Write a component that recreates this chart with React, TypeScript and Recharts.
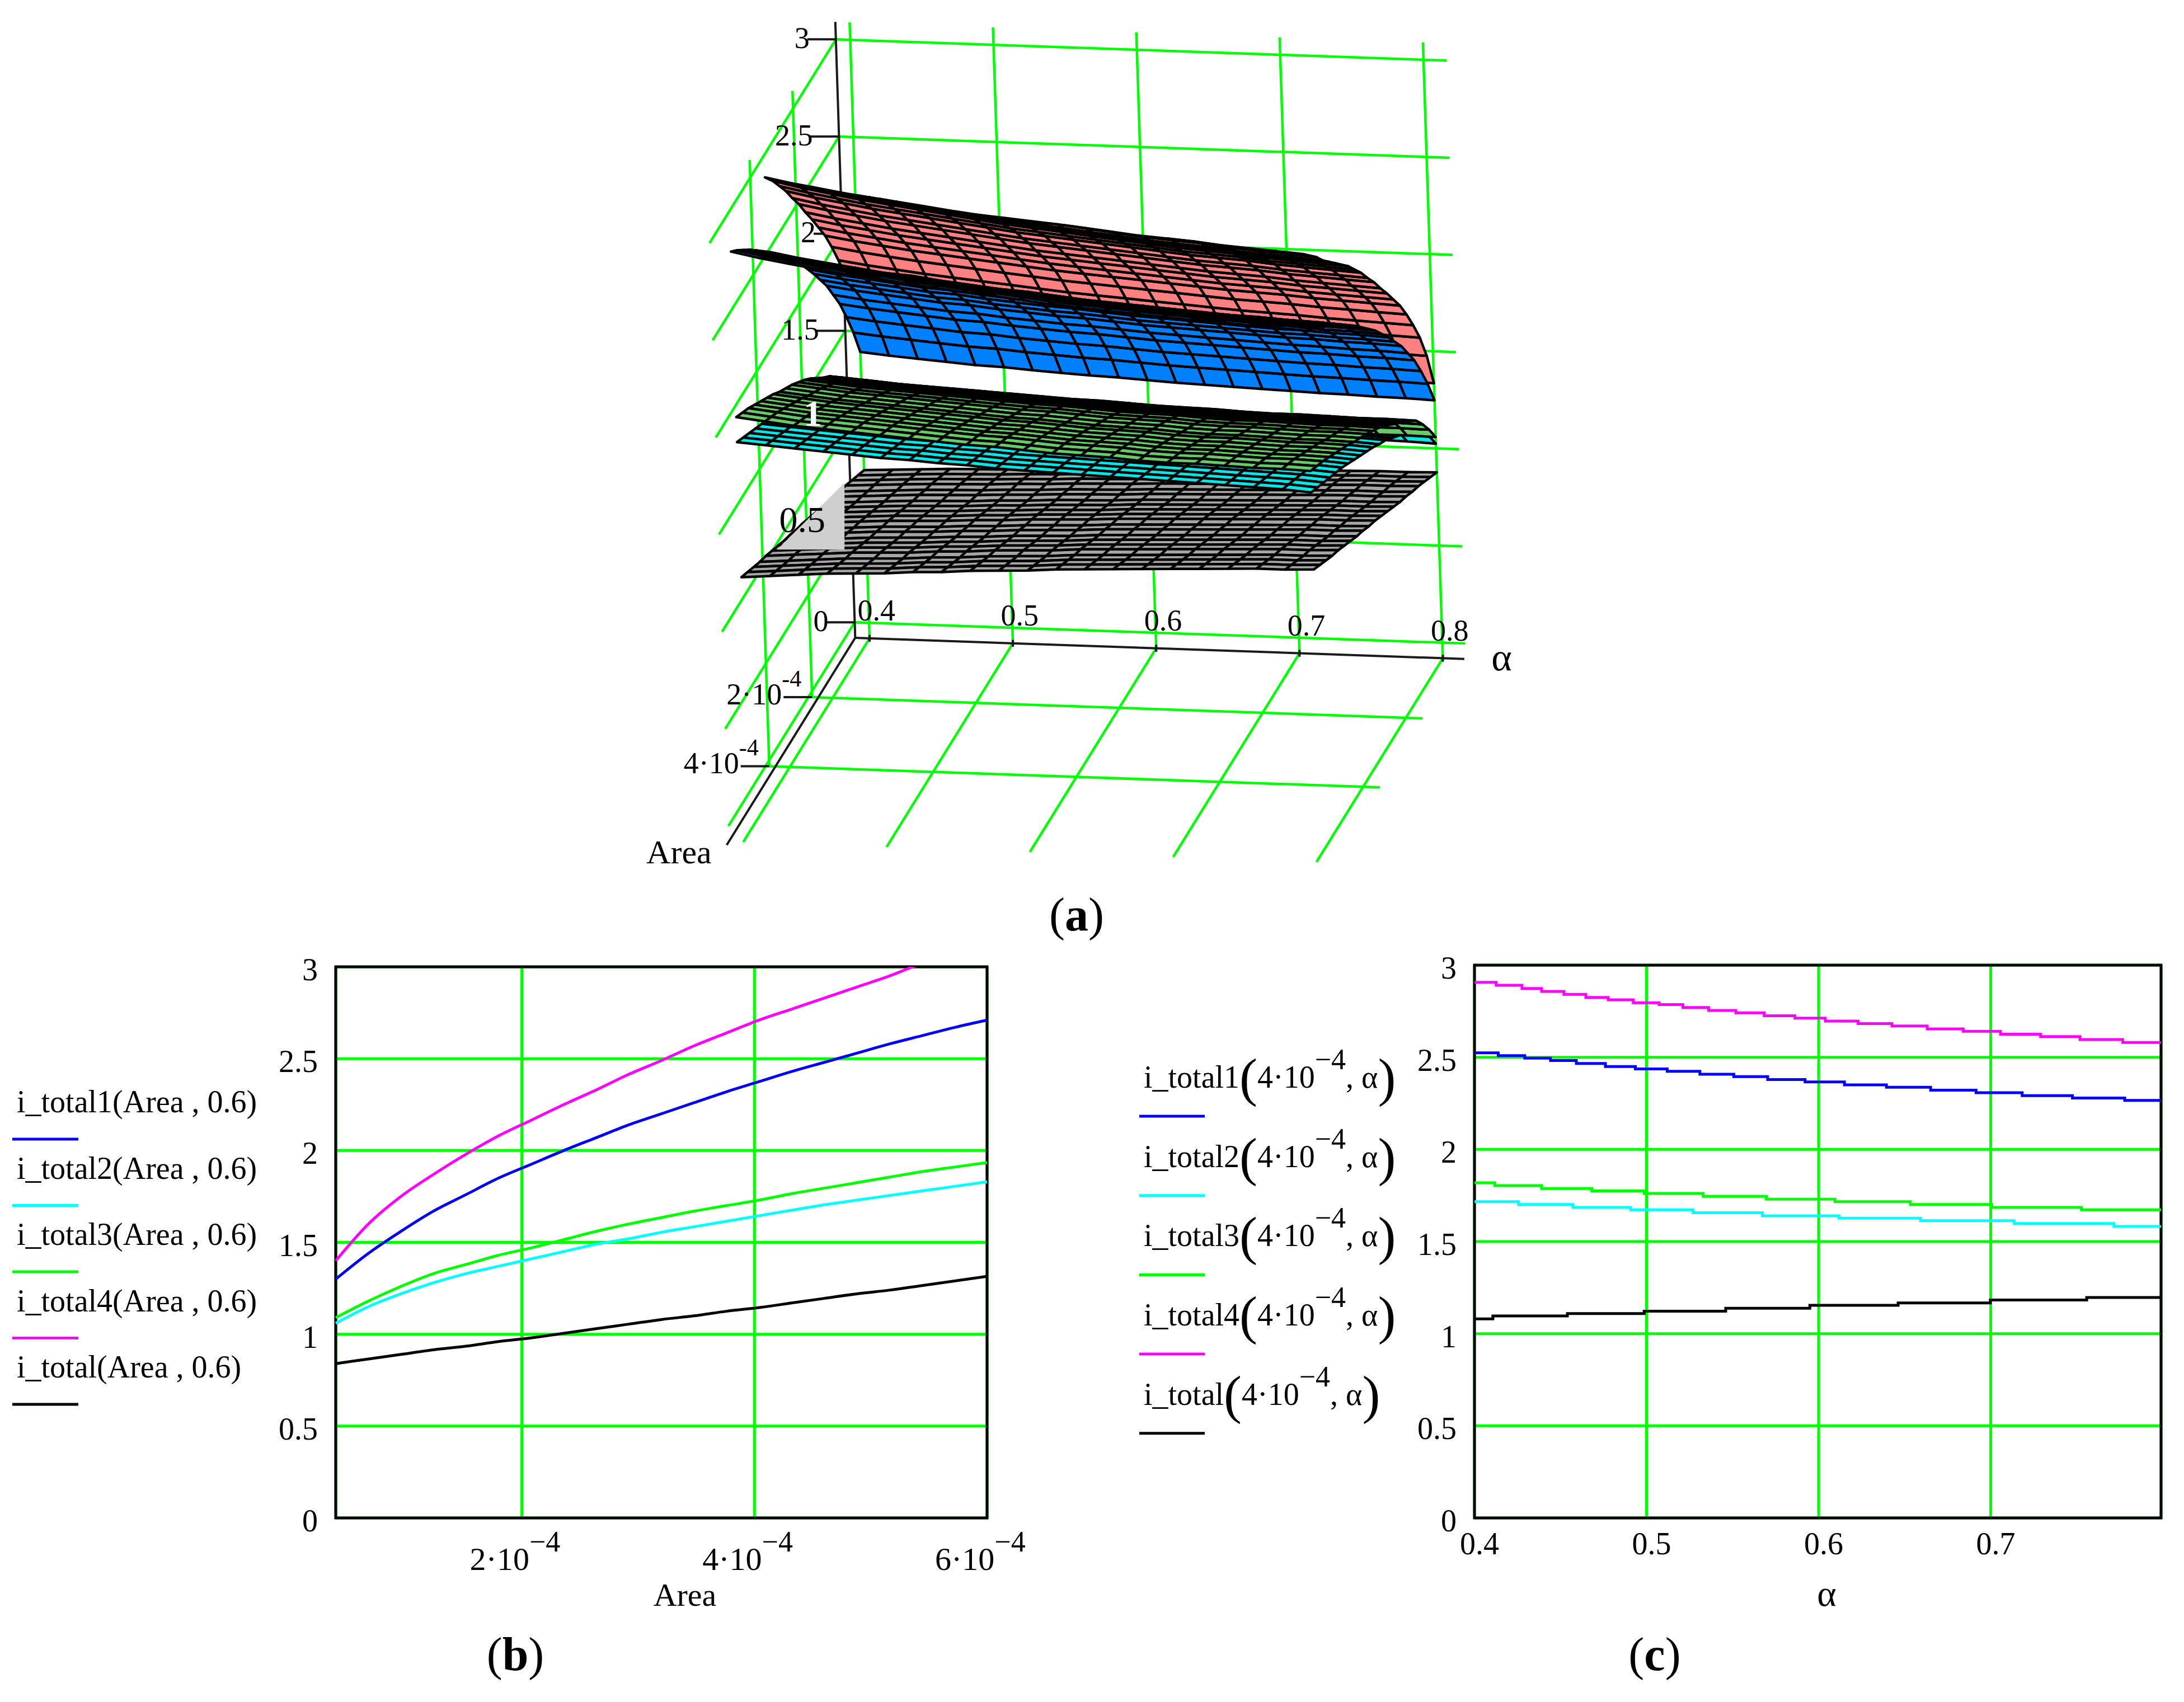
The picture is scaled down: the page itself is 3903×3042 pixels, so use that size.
import React from "react";
import {
  ComposedChart, Line, Scatter, XAxis, YAxis, CartesianGrid, ReferenceArea, Legend,
} from "recharts";

const FONT = "'Liberation Serif', serif";
const GRID = "#00ff00";

// ---------- readings (Area in 1e-4 units) ----------
const areaGrid = [0.4, 0.68, 0.96, 1.24, 1.52, 1.8, 2.08, 2.36, 2.64, 2.92, 3.2, 3.48, 3.76, 4.04, 4.32, 4.6, 4.88, 5.16, 5.44, 5.72, 6.0];
const areaT1 = [1.30, 1.44, 1.56, 1.67, 1.76, 1.85, 1.925, 2.0, 2.07, 2.14, 2.2, 2.26, 2.32, 2.375, 2.43, 2.48, 2.53, 2.58, 2.625, 2.67, 2.71];
const areaT2 = [1.06, 1.15, 1.22, 1.28, 1.33, 1.37, 1.41, 1.45, 1.49, 1.52, 1.555, 1.585, 1.615, 1.645, 1.675, 1.705, 1.73, 1.755, 1.78, 1.805, 1.83];
const areaT3 = [1.09, 1.18, 1.26, 1.33, 1.38, 1.43, 1.47, 1.515, 1.56, 1.6, 1.635, 1.67, 1.7, 1.73, 1.765, 1.795, 1.825, 1.855, 1.885, 1.91, 1.935];
const areaT4 = [1.4, 1.6, 1.75, 1.87, 1.98, 2.08, 2.165, 2.25, 2.33, 2.415, 2.49, 2.57, 2.64, 2.71, 2.77, 2.83, 2.89, 2.95, 3.02, 3.08, 3.14];
const areaT0 = [0.84, 0.865, 0.89, 0.915, 0.935, 0.96, 0.98, 1.005, 1.03, 1.055, 1.08, 1.1, 1.125, 1.145, 1.17, 1.195, 1.22, 1.24, 1.265, 1.29, 1.315];

const alphaGrid = [0.4, 0.42, 0.44, 0.46, 0.48, 0.5, 0.52, 0.54, 0.56, 0.58, 0.6, 0.62, 0.64, 0.66, 0.68, 0.7, 0.72, 0.74, 0.76, 0.78, 0.8];
const alphaT1 = [2.525, 2.5, 2.48, 2.46, 2.44, 2.43, 2.41, 2.395, 2.38, 2.37, 2.355, 2.34, 2.33, 2.32, 2.31, 2.3, 2.29, 2.285, 2.275, 2.27, 2.26];
const alphaT2 = [1.72, 1.71, 1.7, 1.69, 1.68, 1.67, 1.665, 1.655, 1.65, 1.64, 1.635, 1.63, 1.625, 1.62, 1.615, 1.61, 1.605, 1.6, 1.595, 1.59, 1.58];
const alphaT3 = [1.82, 1.805, 1.79, 1.78, 1.77, 1.76, 1.75, 1.74, 1.73, 1.725, 1.715, 1.705, 1.7, 1.695, 1.685, 1.68, 1.68, 1.675, 1.67, 1.67, 1.665];
const alphaT4 = [2.91, 2.88, 2.855, 2.83, 2.81, 2.79, 2.77, 2.75, 2.73, 2.715, 2.7, 2.685, 2.67, 2.655, 2.64, 2.63, 2.62, 2.605, 2.595, 2.585, 2.575];
const alphaT0 = [1.08, 1.09, 1.1, 1.11, 1.115, 1.12, 1.13, 1.135, 1.145, 1.15, 1.155, 1.165, 1.17, 1.175, 1.18, 1.185, 1.19, 1.195, 1.2, 1.2, 1.205];

// stair-stepped traces of panel (c): level starts
const stepT4A = [0.4, 0.4126, 0.4276, 0.439, 0.452, 0.4647, 0.4777, 0.4923, 0.5073, 0.5211, 0.5361, 0.5519, 0.5684, 0.5862, 0.6039, 0.6229, 0.6426, 0.6631, 0.684, 0.7057, 0.729, 0.7519, 0.7767, 0.799];
const stepT4V = [2.907, 2.891, 2.873, 2.857, 2.841, 2.825, 2.812, 2.796, 2.786, 2.77, 2.754, 2.741, 2.725, 2.712, 2.696, 2.683, 2.67, 2.654, 2.641, 2.625, 2.612, 2.596, 2.58, 2.58];
const stepT1A = [0.4, 0.4138, 0.4292, 0.4442, 0.4592, 0.4761, 0.4935, 0.512, 0.531, 0.5507, 0.5704, 0.5921, 0.615, 0.6394, 0.6651, 0.6915, 0.7183, 0.7475, 0.7779, 0.799];
const stepT1V = [2.524, 2.509, 2.495, 2.482, 2.466, 2.45, 2.437, 2.424, 2.408, 2.395, 2.379, 2.366, 2.35, 2.337, 2.321, 2.308, 2.292, 2.279, 2.266, 2.266];
const stepT3A = [0.4, 0.4118, 0.439, 0.4682, 0.4986, 0.5329, 0.5696, 0.6095, 0.6533, 0.7006, 0.7527, 0.799];
const stepT3V = [1.819, 1.804, 1.788, 1.775, 1.761, 1.745, 1.73, 1.716, 1.701, 1.685, 1.672, 1.672];
const stepT2A = [0.4, 0.4256, 0.4572, 0.4907, 0.527, 0.5673, 0.6118, 0.6592, 0.7136, 0.7716, 0.799];
const stepT2V = [1.716, 1.701, 1.685, 1.672, 1.656, 1.64, 1.627, 1.613, 1.598, 1.582, 1.582];
const stepT0A = [0.4, 0.4107, 0.454, 0.4986, 0.546, 0.5949, 0.6462, 0.6998, 0.7558, 0.799];
const stepT0V = [1.08, 1.096, 1.109, 1.122, 1.138, 1.154, 1.167, 1.183, 1.196, 1.196];

const valueTicks = [0, 0.5, 1, 1.5, 2, 2.5, 3];
const areaTicks = [2, 4, 6];
const alphaTicks = [0.4, 0.5, 0.6, 0.7];
const alpha3D = [0.4, 0.5, 0.6, 0.7, 0.8];
const area3D = [2, 4];

const namesB = ["i_total1(Area , 0.6)", "i_total2(Area , 0.6)", "i_total3(Area , 0.6)", "i_total4(Area , 0.6)", "i_total(Area , 0.6)"];
const namesC = ["i_total1", "i_total2", "i_total3", "i_total4", "i_total"];
const colors = ["#0000ff", "#00ffff", "#00ff00", "#ff00ff", "#000000"];

// ---------- 3D view ----------
const KX = 1 / 0.98;
const KY = 1 / 0.956;
const project = (alpha: number, area: number, z: number) => {
  const n = area / 2;
  return {
    x: 395 + (alpha - 0.4) * 2510 - 75 * n - 11 * z,
    y: 1045 + (alpha - 0.4) * 85 + 118 * n - 332 * z,
  };
};

type V = { a: number; n: number; z: number };
const clipTop = (vs: V[], top: number): V[] => {
  const out: V[] = [];
  for (let i = 0; i < vs.length; i++) {
    const p = vs[i];
    const q = vs[(i + 1) % vs.length];
    if (p.z <= top) out.push(p);
    if (p.z <= top !== q.z <= top) {
      const t = (top - p.z) / (q.z - p.z);
      out.push({ a: p.a + (q.a - p.a) * t, n: p.n + (q.n - p.n) * t, z: top });
    }
  }
  return out;
};

const surfaceQuads = (prof: number[], fac: number[], fill: string, sw: number) => {
  const mid = fac[10];
  const quads: any[] = [];
  const node = (i: number, j: number): V => ({
    a: alphaGrid[j],
    n: areaGrid[i] - 0.4,
    z: (prof[i] * fac[j]) / mid,
  });
  for (let i = 0; i < areaGrid.length - 1; i++) {
    for (let j = 0; j < alphaGrid.length - 1; j++) {
      const vs = clipTop([node(i, j), node(i, j + 1), node(i + 1, j + 1), node(i + 1, j)], 3);
      if (vs.length < 3) continue;
      const pts = vs.map((v) => project(v.a, v.n, v.z));
      quads.push({ x: pts[0].x, y: pts[0].y, pts, fill, sw });
    }
  }
  return quads;
};

const allQuads = [
  ...surfaceQuads(areaT0, alphaT0, "#a6a6a6", 4.5),
  ...surfaceQuads(areaT2, alphaT2, "#00e8e8", 4.5),
  ...surfaceQuads(areaT3, alphaT3, "#66cc66", 4.5),
  ...surfaceQuads(areaT4, alphaT4, "#ff8080", 4.5),
  ...surfaceQuads(areaT1, alphaT1, "#0080ff", 4.5),
];

const seg = (p: { x: number; y: number }, q: { x: number; y: number }) => [p, q];
const A0 = 0.39;
const AMAX = 5.9;
const greenSegs = [
  ...alpha3D.map((a) => seg(project(a, 0, -0.08), project(a, 0, 3.09))),
  ...alpha3D.map((a) => seg(project(a, 0, -0.08), project(a, AMAX, -0.08))),
  ...valueTicks.map((z) => seg(project(A0, 0, z), project(0.816, 0, z))),
  ...valueTicks.map((z) => seg(project(A0, 0, z), project(A0, AMAX, z))),
  ...area3D.map((n) => seg(project(A0, n, -0.03), project(A0, n, 3.09))),
  ...area3D.map((n) => seg(project(A0, n, -0.03), project(0.816, n, -0.03))),
];
const blackSegs = [
  seg(project(A0, 0, 3.09), project(A0, 0, -0.08)),
  seg(project(A0, 0, -0.08), project(0.815, 0, -0.08)),
  seg(project(A0, 0, -0.08), project(A0, 6, -0.08)),
  ...valueTicks.map((z) => {
    const p = project(A0, 0, z);
    return seg({ x: p.x - 50, y: p.y }, p);
  }),
  ...alpha3D.map((a) => {
    const p = project(a, 0, -0.08);
    return seg({ x: p.x, y: p.y - 6 }, { x: p.x, y: p.y + 6 });
  }),
  ...area3D.map((n) => {
    const p = project(A0, n, -0.03);
    return seg({ x: p.x - 50, y: p.y }, p);
  }),
];

const Txt3D = (props: any) => {
  const { cx, cy, payload } = props;
  return (
    <text x={cx} y={cy} textAnchor={payload.anchor} fontFamily={FONT} fontSize={payload.size} fontWeight={payload.weight || "normal"} fill={payload.color}>
      {payload.text}
      {payload.sup ? <tspan dy={-32} fontSize={42}>{payload.sup}</tspan> : null}
    </text>
  );
};

const zLabels = valueTicks.map((z) => {
  const p = project(A0, 0, z);
  const big = z === 0.5 || z === 1;
  return {
    x: p.x - 46,
    y: p.y + (z === 1 ? -4 : big ? 12 : 15),
    text: String(z),
    anchor: "end",
    size: big ? 66 : 54,
    color: z === 1 ? "#ffffff" : "#000000",
    weight: z === 1 ? "bold" : "normal",
  };
});
const alphaLabels = alpha3D.map((a) => {
  const p = project(a, 0, -0.08);
  return { x: p.x + 12, y: p.y - 30, text: a.toFixed(1), anchor: "middle", size: 54, color: "#000000" };
});
const areaLabels = area3D.map((n) => {
  const p = project(A0, n, -0.03);
  return { x: p.x - 150, y: p.y + 12, text: n + "·10", sup: "-4", anchor: "start", size: 54, color: "#000000" };
});
const axisTitles = [
  { x: 5, y: 1456, text: "Area", anchor: "start", size: 60, color: "#000000" },
  { x: 1503, y: 1126, text: "α", anchor: "middle", size: 70, color: "#000000" },
];
const patch = [
  { x: 234, y: 920, pts: [{ x: 234, y: 920 }, { x: 352, y: 920 }, { x: 352, y: 806 }], fill: "#cfcfcf", sw: 0 },
];

const Quad = (props: any) => {
  const { cx, cy, payload } = props;
  const ox = payload.x;
  const oy = payload.y;
  const pts = payload.pts.map((p: any) => `${cx + (p.x - ox) * KX},${cy + (p.y - oy) * KY}`).join(" ");
  return <polygon points={pts} fill={payload.fill} stroke="#000" strokeWidth={payload.sw} strokeLinejoin="round" />;
};

const Panel3D = () => (
  <div style={{ position: "absolute", left: 1150, top: 20 }}>
    <ComposedChart width={1600} height={1640} margin={{ top: 0, right: 0, bottom: 0, left: 0 }}>
      <XAxis hide type="number" dataKey="x" domain={[0, 1600 * 0.98]} allowDataOverflow />
      <YAxis hide type="number" dataKey="y" domain={[0, 1640 * 0.956]} reversed allowDataOverflow />
      {greenSegs.map((d, i) => (
        <Line key={"g" + i} data={d} dataKey="y" stroke={GRID} strokeWidth={4.5} dot={false} isAnimationActive={false} legendType="none" />
      ))}
      {blackSegs.map((d, i) => (
        <Line key={"b" + i} data={d} dataKey="y" stroke="#1a1a1a" strokeWidth={4} dot={false} isAnimationActive={false} legendType="none" />
      ))}
      <Scatter data={allQuads} shape={Quad} isAnimationActive={false} />
      <Scatter data={patch} shape={Quad} isAnimationActive={false} />
      <Scatter data={[...zLabels, ...alphaLabels, ...areaLabels, ...axisTitles]} shape={Txt3D} isAnimationActive={false} />
    </ComposedChart>
  </div>
);

// ---------- 2D panels ----------
const legendText = { fontFamily: FONT, fontSize: 56, fill: "#000" };

const YTick = (dx: number) => (props: any) => {
  const { x, y, payload } = props;
  return (
    <text x={x + dx} y={y + 24} textAnchor="end" fontFamily={FONT} fontSize={56} fill="#000">
      {String(payload.value)}
    </text>
  );
};
const AreaTick = (props: any) => {
  const { x, payload } = props;
  return (
    <text x={x - 93} y={2806 - 1680} fontFamily={FONT} fontSize={58} fill="#000">
      {payload.value}·10
      <tspan dy={-33} fontSize={52}>−4</tspan>
    </text>
  );
};
const AlphaTick = (props: any) => {
  const { x, payload } = props;
  return (
    <text x={x + 9} y={2778 - 1680} textAnchor="middle" fontFamily={FONT} fontSize={56} fill="#000">
      {Number(payload.value).toFixed(1)}
    </text>
  );
};

const ordered = (payload: any[], names: string[]) =>
  [...(payload || [])].sort((p, q) => names.indexOf(p.value) - names.indexOf(q.value));

const LegendB = (props: any) => (
  <svg width={600} height={900} style={{ display: "block" }}>
    {ordered(props.payload, namesB).map((e: any, i: number) => {
      const base = 308 + i * 118.5;
      return (
        <g key={i}>
          <text x={30} y={base} {...legendText}>{e.value}</text>
          <line x1={22} x2={140} y1={base + 48} y2={base + 48} stroke={e.color} strokeWidth={5} />
        </g>
      );
    })}
  </svg>
);
const LegendC = (props: any) => (
  <svg width={600} height={1000} style={{ display: "block" }}>
    {ordered(props.payload, namesC).map((e: any, i: number) => {
      const base = 264 + i * 141.7;
      return (
        <g key={i}>
          <text x={44} y={base} {...legendText}>
            {e.value}
            <tspan fontSize={96} dy={14}>(</tspan>
            <tspan dy={-14}>4·10</tspan>
            <tspan dy={-33} fontSize={52}>−4</tspan>
            <tspan dy={33}>, α</tspan>
            <tspan fontSize={96} dy={14}>)</tspan>
          </text>
          <line x1={36} x2={153} y1={base + 51} y2={base + 51} stroke={e.color} strokeWidth={5} />
        </g>
      );
    })}
  </svg>
);

const rowsB = areaGrid.map((area, i) => ({
  area,
  t1: areaT1[i],
  t2: areaT2[i],
  t3: areaT3[i],
  t4: areaT4[i],
  t0: areaT0[i],
}));
const keysB = ["t1", "t2", "t3", "t4", "t0"];

const PanelB = () => (
  <div style={{ position: "absolute", left: 0, top: 1680 }}>
    <ComposedChart width={1900} height={1362} data={rowsB} margin={{ top: 48, right: 136, bottom: 0, left: 0 }}>
      <CartesianGrid stroke={GRID} strokeWidth={5} />
      <XAxis
        dataKey="area" type="number" domain={[0.4, 6]} ticks={areaTicks} interval={0}
        tick={AreaTick} tickLine={false} axisLine={false} height={329}
        label={{ value: "Area", position: "insideBottom", offset: 172, dx: 42, fontFamily: FONT, fontSize: 58, fill: "#000" }}
      />
      <YAxis
        type="number" domain={[0, 3]} ticks={valueTicks} interval={0} width={600} allowDataOverflow
        tick={YTick(-24)} tickLine={false} axisLine={false}
      />
      {keysB.map((k, i) => (
        <Line key={k} dataKey={k} name={namesB[i]} type="monotone" stroke={colors[i]} strokeWidth={5} dot={false} isAnimationActive={false} />
      ))}
      <ReferenceArea x1={0.4} x2={6} y1={0} y2={3} fill="none" stroke="#000" strokeWidth={5} fillOpacity={0} />
      <Legend layout="vertical" align="center" verticalAlign="middle" content={LegendB} wrapperStyle={{ left: 0, top: 0, width: 600 }} />
    </ComposedChart>
  </div>
);

const zip = (a: number[], v: number[]) => a.map((x, i) => ({ a: x, v: v[i] }));
const seriesC = [
  zip(stepT1A, stepT1V),
  zip(stepT2A, stepT2V),
  zip(stepT3A, stepT3V),
  zip(stepT4A, stepT4V),
  zip(stepT0A, stepT0V),
];

const PanelC = () => (
  <div style={{ position: "absolute", left: 2000, top: 1680 }}>
    <ComposedChart width={1903} height={1362} margin={{ top: 45, right: 41, bottom: 0, left: 0 }}>
      <CartesianGrid stroke={GRID} strokeWidth={5} />
      <XAxis
        dataKey="a" type="number" domain={[0.4, 0.799]} ticks={alphaTicks} interval={0}
        tick={AlphaTick} tickLine={false} axisLine={false} height={329}
        label={{ value: "α", position: "insideBottom", offset: 172, dx: 16, fontFamily: FONT, fontSize: 66, fill: "#000" }}
      />
      <YAxis
        type="number" domain={[0, 3]} ticks={valueTicks} interval={0} width={635} allowDataOverflow
        tick={YTick(-24)} tickLine={false} axisLine={false}
      />
      {seriesC.map((d, i) => (
        <Line key={i} data={d} dataKey="v" name={namesC[i]} type="stepAfter" stroke={colors[i]} strokeWidth={5} dot={false} isAnimationActive={false} />
      ))}
      <ReferenceArea x1={0.4} x2={0.799} y1={0} y2={3} fill="none" stroke="#000" strokeWidth={5} fillOpacity={0} />
      <Legend layout="vertical" align="center" verticalAlign="middle" content={LegendC} wrapperStyle={{ left: 0, top: 0, width: 600 }} />
    </ComposedChart>
  </div>
);

const captions = [
  { x: 1924, y: 1663, letter: "a" },
  { x: 921, y: 2985, letter: "b" },
  { x: 2957, y: 2985, letter: "c" },
];

export default function App() {
  return (
    <div style={{ position: "absolute", left: 0, top: 0, width: 3903, height: 3042, background: "#fff", overflow: "hidden" }}>
      <Panel3D />
      <PanelB />
      <PanelC />
      <svg width={3903} height={3042} style={{ position: "absolute", left: 0, top: 0, pointerEvents: "none" }}>
        {captions.map((c) => (
          <text key={c.letter} x={c.x} y={c.y} textAnchor="middle" fontFamily={FONT} fontSize={84} fill="#000">
            (<tspan fontWeight="bold">{c.letter}</tspan>)
          </text>
        ))}
      </svg>
    </div>
  );
}
